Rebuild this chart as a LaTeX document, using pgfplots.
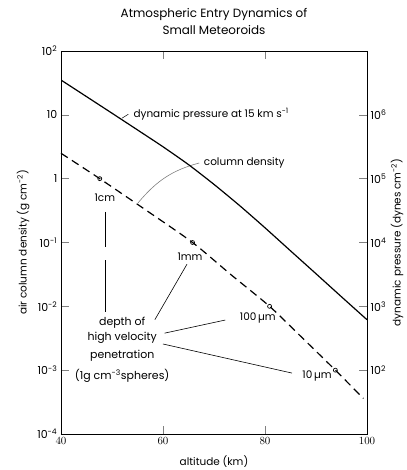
\documentclass[border=0pt]{standalone}
\usepackage{pgfplots}
\pgfplotsset{compat=1.18}
\usepackage{fontspec}
\setmainfont{Poppins}
\newcommand{\sz}[1]{\fontsize{#1}{#1}\selectfont}
\begin{document}
\begin{tikzpicture}
\useasboundingbox (-61bp,-36bp) rectangle (346bp,434bp);
\pgfplotsset{
  every axis/.append style={
    scale only axis, width=306bp, height=383bp,
    xmin=40, xmax=100, ymode=log,
    tick align=inside, major tick length=8bp,
    yminorticks=false, line width=0.8bp,
    tick style={line width=0.6bp},
    tick label style={font=\sz{11}},
    label style={font=\sz{10.5}},
  },
}
\begin{axis}[
  ymin=1e-4, ymax=1e2,
  xtick={40,60,80,100},
  ytick={1e-4,1e-3,1e-2,1e-1,1,10,100},
  yticklabels={10\textsuperscript{-4},10\textsuperscript{-3},10\textsuperscript{-2},10\textsuperscript{-1},1,10,10\textsuperscript{2}},
  ytick pos=left,
  xlabel={altitude (km)},
  ylabel={air column density (g cm\textsuperscript{-2})},
  xlabel style={at={(axis description cs:0.5,-0.073)}, anchor=center},
  ylabel style={at={(axis description cs:-0.124,0.5)}, anchor=center},
  clip=false,
]
% column density of high velocity penetration (dashed)
\addplot[black, line width=1.2bp, dash pattern=on 8bp off 5bp, smooth, tension=0.4] coordinates {
  (40,2.5) (47.6,1.0) (56.7,0.32) (65.8,0.1) (73.4,0.031)
  (80.9,0.01) (87.4,0.00316) (93.8,0.001) (99.3,0.00036)
};
\addplot[only marks, mark=o, mark size=2bp, black, mark options={line width=0.7bp, fill=white}] coordinates {
  (47.6,1.0) (65.8,0.1) (80.9,0.01) (93.8,0.001)
};
% annotations
\node[font=\sz{11}] at (axis cs:52,0.0055) {depth of};
\node[font=\sz{11}] at (axis cs:52,0.00316) {high velocity};
\node[font=\sz{11}] at (axis cs:52,0.00166) {penetration};
\node[font=\sz{11}] at (axis cs:52,0.00081) {(1g cm\textsuperscript{-3}spheres)};
\node[font=\sz{10.5}] at (axis cs:48.6,0.51) {1cm};
\node[font=\sz{10.5}] at (axis cs:65.3,0.059) {1mm};
\node[font=\sz{10.5}] at (axis cs:78.6,0.0066) {100\,µm};
\node[font=\sz{10.5}] at (axis cs:90.2,0.00081) {10\,µm};
\draw[line width=0.7bp] (axis cs:48.6,0.302) -- (axis cs:48.6,0.0851);
\draw[line width=0.7bp] (axis cs:48.6,0.0531) -- (axis cs:48.6,0.00813);
\draw[line width=0.6bp] (axis cs:64.7,0.0457) -- (axis cs:58.4,0.00617);
\draw[line width=0.6bp] (axis cs:60.3,0.0038) -- (axis cs:72.2,0.0061);
\draw[line width=0.6bp] (axis cs:60.0,0.00257) -- (axis cs:85.3,0.00090);
\node[font=\sz{10.5}, anchor=west] at (axis cs:53.5,10.3) {dynamic pressure at 15 km s\textsuperscript{-1}};
\draw[line width=0.5bp] (axis cs:52.0,8.9) -- (axis cs:53.2,10.2);
\node[font=\sz{10.5}, anchor=west] at (axis cs:67.3,1.76) {column density};
\draw[gray, line width=0.6bp] (axis cs:55.1,0.417) to[out=50, in=195] (axis cs:67.1,1.76);
% title
\node[font=\sz{12}] at (rel axis cs:0.5,1) [yshift=37bp] {Atmospheric Entry Dynamics of};
\node[font=\sz{12}] at (rel axis cs:0.5,1) [yshift=21bp] {Small Meteoroids};
\end{axis}
\begin{axis}[
  ymin=10, ymax=1e7,
  axis x line=none, axis y line*=right,
  ytick={1e2,1e3,1e4,1e5,1e6},
  yticklabels={10\textsuperscript{2},10\textsuperscript{3},10\textsuperscript{4},10\textsuperscript{5},10\textsuperscript{6}},
  ylabel={dynamic pressure (dynes cm\textsuperscript{-2})},
  ylabel style={at={(axis description cs:1.098,0.5)}, anchor=center},
]
% dynamic pressure at 15 km/s (solid)
\addplot[black, line width=1.2bp, smooth, tension=0.4] coordinates {
  (40,3.51e6) (45,1.93e6) (50,1.06e6) (55,5.8e5) (60,3.16e5)
  (65,1.66e5) (70,8.13e4) (75,3.8e4) (80,1.70e4) (85,7.41e3)
  (90,3.24e3) (95,1.41e3) (100,617)
};
\end{axis}
\end{tikzpicture}
\end{document}
